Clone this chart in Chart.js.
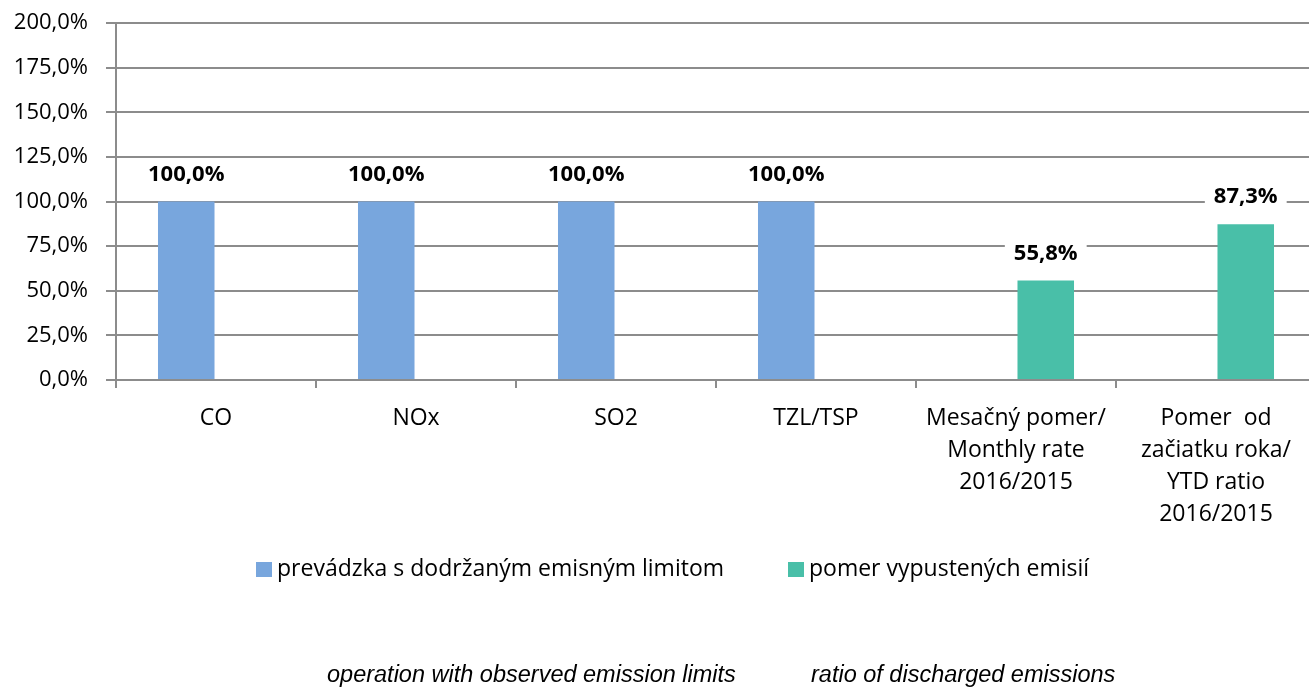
<!DOCTYPE html>
<html>
<head>
<meta charset="utf-8">
<script src="https://cdn.jsdelivr.net/npm/chart.js@4.4.1/dist/chart.umd.min.js"></script>
<style>
  html, body { margin: 0; padding: 0; background: #fff; overflow: hidden; }
  #wrap { width: 1316px; height: 688px; }
</style>
</head>
<body>
<div id="wrap"><canvas id="emisie" width="1316" height="688"></canvas></div>
<script>
// kategorie na osi x (viacriadkove)
var kategorie = [
  ["CO"],
  ["NOx"],
  ["SO2"],
  ["TZL/TSP"],
  ["Mesačný pomer/", "Monthly rate", "2016/2015"],
  ["Pomer  od", "začiatku roka/", "YTD ratio", "2016/2015"]
];
var nazvySerii = ["prevádzka s dodržaným emisným limitom", "pomer vypustených emisií"];
var prevadzka = [100, 100, 100, 100, null, null];
var pomerEmisii = [null, null, null, null, 55.8, 87.3];
var osY = [0, 25, 50, 75, 100, 125, 150, 175, 200];
var popisyEN = ["operation with observed emission limits", "ratio of discharged emissions"];

var modra = "#78a6dd";
var zelena = "#49bfa8";
var mriezka = "#8c8c8c";
var pismo = "'Open Sans'";

function percento(v) {
  return v.toFixed(1).replace(".", ",") + "%";
}

// hodnoty nad stlpcami s bielym pozadim
var hodnotyPlugin = {
  id: "hodnoty",
  afterDatasetsDraw: function (chart) {
    var ctx = chart.ctx;
    ctx.save();
    ctx.font = "bold 22px " + pismo;
    ctx.textAlign = "center";
    ctx.textBaseline = "middle";
    chart.data.datasets.forEach(function (ds, i) {
      var meta = chart.getDatasetMeta(i);
      meta.data.forEach(function (bar, j) {
        if (ds.data[j] == null) return;
        var txt = percento(ds.data[j]);
        var w = ctx.measureText(txt).width + 18;
        var y = bar.y - 28;
        ctx.fillStyle = "#fff";
        ctx.fillRect(bar.x - w / 2, y - 13, w, 26);
        ctx.fillStyle = "#000";
        ctx.fillText(txt, bar.x, y + 1);
      });
    });
    ctx.restore();
  }
};

// legenda a anglicke popisy dole
var legendaPlugin = {
  id: "legenda",
  afterDraw: function (chart) {
    var ctx = chart.ctx;
    ctx.save();
    var polohy = [256, 788];
    ctx.font = "23px " + pismo;
    ctx.textBaseline = "middle";
    ctx.textAlign = "left";
    chart.data.datasets.forEach(function (ds, i) {
      ctx.fillStyle = ds.backgroundColor;
      ctx.fillRect(polohy[i], 562, 16, 15);
      ctx.fillStyle = "#000";
      ctx.fillText(ds.label, polohy[i] + 21, 569);
    });
    ctx.font = "italic 23.5px 'Liberation Sans'";
    ctx.textBaseline = "alphabetic";
    var px = [327, 811];
    popisyEN.forEach(function (t, i) {
      ctx.fillText(t, px[i], 682);
    });
    ctx.restore();
  }
};

new Chart(document.getElementById("emisie"), {
  type: "bar",
  data: {
    labels: kategorie,
    datasets: [
      {
        label: nazvySerii[0],
        data: prevadzka,
        backgroundColor: modra,
        categoryPercentage: 0.595,
        barPercentage: 0.95
      },
      {
        label: nazvySerii[1],
        data: pomerEmisii,
        backgroundColor: zelena,
        categoryPercentage: 0.595,
        barPercentage: 0.95
      }
    ]
  },
  options: {
    responsive: false,
    animation: false,
    layout: { padding: { top: 23, right: 0, bottom: 0, left: 0 } },
    plugins: {
      legend: { display: false },
      tooltip: { enabled: false }
    },
    scales: {
      x: {
        grid: {
          offset: true,
          drawOnChartArea: false,
          drawTicks: true,
          tickLength: 8,
          color: mriezka,
          lineWidth: 2
        },
        border: { color: mriezka, width: 2 },
        ticks: {
          color: "#000",
          padding: 14,
          maxRotation: 0,
          autoSkip: false,
          font: { family: pismo, size: 23, lineHeight: 1.4 }
        },
        afterFit: function (scale) { scale.height = 308; }
      },
      y: {
        min: osY[0],
        max: osY[osY.length - 1],
        afterBuildTicks: function (scale) {
          scale.ticks = osY.map(function (v) { return { value: v }; });
        },
        grid: { color: mriezka, lineWidth: 2, tickLength: 10 },
        border: { color: mriezka, width: 2 },
        ticks: {
          color: "#000",
          padding: 18,
          font: { family: pismo, size: 22 },
          callback: function (v) { return percento(v); }
        },
        afterFit: function (scale) {
          scale.width = 116;
          scale.paddingTop = 0;
          scale.paddingBottom = 0;
        }
      }
    }
  },
  plugins: [hodnotyPlugin, legendaPlugin]
});
</script>
</body>
</html>
